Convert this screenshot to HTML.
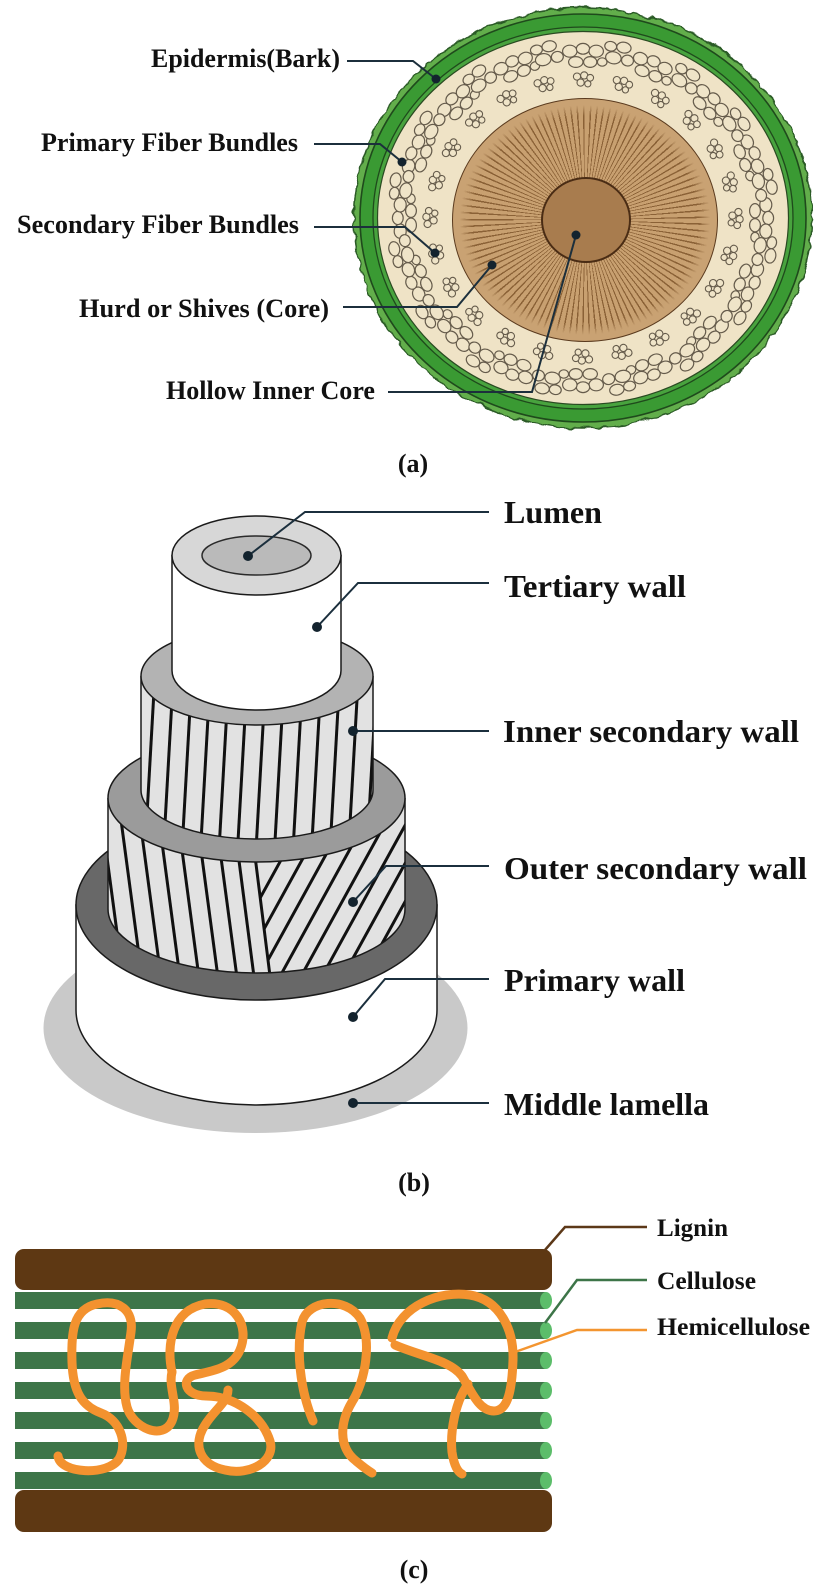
<!DOCTYPE html>
<html>
<head>
<meta charset="utf-8">
<style>
  html,body{margin:0;padding:0;background:#fff;}
  body{width:827px;height:1587px;position:relative;overflow:hidden;}
  svg{position:absolute;left:0;top:0;}
  .hurd{position:absolute;left:452px;top:98px;width:266px;height:244px;border-radius:50%;box-sizing:border-box;border:1.6px solid #5a3a1e;
    background:
      radial-gradient(closest-side, rgba(200,160,110,0) 86%, #c9a273 95%),
      repeating-conic-gradient(from 0deg, #c8a070 0deg 2.5deg, #8a6136 2.5deg 3.3deg);}
</style>
</head>
<body>
<svg width="827" height="1587" viewBox="0 0 827 1587" xmlns="http://www.w3.org/2000/svg">
  <defs>
    <filter id="rough" x="-5%" y="-5%" width="110%" height="110%">
      <feTurbulence type="fractalNoise" baseFrequency="0.09" numOctaves="2" seed="3"/>
      <feDisplacementMap in="SourceGraphic" scale="7" xChannelSelector="R" yChannelSelector="G"/>
    </filter>
    <g id="P" fill="#efe4c8" stroke="#655b4b" stroke-width="1" transform="scale(1.2)">
      <ellipse cx="-11" cy="-4" rx="6" ry="5"/>
      <ellipse cx="0" cy="-6" rx="5.5" ry="4.5"/>
      <ellipse cx="11" cy="-4" rx="6" ry="5"/>
      <ellipse cx="-6" cy="5" rx="6" ry="4.5"/>
      <ellipse cx="6" cy="5" rx="5.5" ry="4.5"/>
      <ellipse cx="16" cy="5" rx="4" ry="3.5"/>
    </g>
    <g id="P2" fill="#efe4c8" stroke="#655b4b" stroke-width="1" transform="scale(1.2)">
      <ellipse cx="-8" cy="-5" rx="5" ry="4"/>
      <ellipse cx="3" cy="-6" rx="6" ry="4.5"/>
      <ellipse cx="-4" cy="4" rx="6.5" ry="5"/>
      <ellipse cx="8" cy="4" rx="5" ry="4.5"/>
    </g>
    <g id="S" fill="#efe4c8" stroke="#655b4b" stroke-width="0.9" transform="scale(1.2)">
      <circle cx="-5" cy="-2" r="3"/>
      <circle cx="1" cy="-3" r="3"/>
      <circle cx="6" cy="-1" r="2.8"/>
      <circle cx="-2" cy="3" r="3"/>
      <circle cx="4" cy="4" r="2.6"/>
    </g>
    <clipPath id="c2"><path d="M141,676 L141,790 A116,49 0 0 0 373,790 L373,676 Z"/></clipPath>
    <clipPath id="c3"><path d="M108,798 L108,909 A148.5,64 0 0 0 405,909 L405,798 Z"/></clipPath>
    <clipPath id="c3r"><polygon points="243,760 430,760 430,1000 273,1000"/></clipPath>
    <clipPath id="c3l"><polygon points="90,760 243,760 273,1000 90,1000"/></clipPath>
  </defs>

  <!-- ============ (a) ============ -->
  <ellipse cx="583" cy="218" rx="229" ry="210" fill="#62ae4c" stroke="#2c5a26" stroke-width="1.5" filter="url(#rough)"/>
  <ellipse cx="583" cy="218" rx="223" ry="204" fill="#3a9a33" stroke="#1f4a1c" stroke-width="1.6"/>
  <ellipse cx="583" cy="218" rx="210" ry="191" fill="#48a33e" stroke="#1f4a1c" stroke-width="1.3"/>
  <ellipse cx="583" cy="218" rx="205.5" ry="186.5" fill="#efe3c6" stroke="#2a4a22" stroke-width="1.2"/>

  <!-- outer fiber bundles -->
  <use href="#P" transform="translate(761,218) rotate(90)"/>
  <use href="#P" transform="translate(748,280) rotate(112)"/>
  <use href="#P" transform="translate(709,332) rotate(135)"/>
  <use href="#P" transform="translate(651,368) rotate(157)"/>
  <use href="#P" transform="translate(583,380) rotate(180)"/>
  <use href="#P" transform="translate(515,368) rotate(202)"/>
  <use href="#P" transform="translate(457,332) rotate(225)"/>
  <use href="#P" transform="translate(418,280) rotate(247)"/>
  <use href="#P" transform="translate(405,218) rotate(270)"/>
  <use href="#P" transform="translate(418,156) rotate(292)"/>
  <use href="#P" transform="translate(457,104) rotate(315)"/>
  <use href="#P" transform="translate(515,68) rotate(337)"/>
  <use href="#P" transform="translate(583,56) rotate(0)"/>
  <use href="#P" transform="translate(651,68) rotate(22)"/>
  <use href="#P" transform="translate(709,104) rotate(45)"/>
  <use href="#P" transform="translate(748,156) rotate(67)"/>
  <use href="#P2" transform="translate(764,251) rotate(101)"/>
  <use href="#P2" transform="translate(736,311) rotate(124)"/>
  <use href="#P2" transform="translate(686,357) rotate(146)"/>
  <use href="#P2" transform="translate(619,382) rotate(169)"/>
  <use href="#P2" transform="translate(547,382) rotate(191)"/>
  <use href="#P2" transform="translate(480,357) rotate(214)"/>
  <use href="#P2" transform="translate(430,311) rotate(236)"/>
  <use href="#P2" transform="translate(402,251) rotate(259)"/>
  <use href="#P2" transform="translate(402,185) rotate(281)"/>
  <use href="#P2" transform="translate(430,125) rotate(304)"/>
  <use href="#P2" transform="translate(480,79) rotate(326)"/>
  <use href="#P2" transform="translate(547,54) rotate(349)"/>
  <use href="#P2" transform="translate(619,54) rotate(11)"/>
  <use href="#P2" transform="translate(686,79) rotate(34)"/>
  <use href="#P2" transform="translate(736,125) rotate(56)"/>
  <use href="#P2" transform="translate(764,185) rotate(79)"/>

  <!-- inner fiber bundles -->
  <use href="#S" transform="translate(736,218) rotate(90)"/>
  <use href="#S" transform="translate(730,254) rotate(105)"/>
  <use href="#S" transform="translate(715,287) rotate(120)"/>
  <use href="#S" transform="translate(691,316) rotate(135)"/>
  <use href="#S" transform="translate(659,338) rotate(150)"/>
  <use href="#S" transform="translate(622,352) rotate(165)"/>
  <use href="#S" transform="translate(583,357) rotate(180)"/>
  <use href="#S" transform="translate(544,352) rotate(195)"/>
  <use href="#S" transform="translate(507,338) rotate(210)"/>
  <use href="#S" transform="translate(475,316) rotate(225)"/>
  <use href="#S" transform="translate(451,287) rotate(240)"/>
  <use href="#S" transform="translate(436,254) rotate(255)"/>
  <use href="#S" transform="translate(430,218) rotate(270)"/>
  <use href="#S" transform="translate(436,182) rotate(285)"/>
  <use href="#S" transform="translate(451,149) rotate(300)"/>
  <use href="#S" transform="translate(475,120) rotate(315)"/>
  <use href="#S" transform="translate(507,98) rotate(330)"/>
  <use href="#S" transform="translate(544,84) rotate(345)"/>
  <use href="#S" transform="translate(583,79) rotate(0)"/>
  <use href="#S" transform="translate(622,84) rotate(15)"/>
  <use href="#S" transform="translate(659,98) rotate(30)"/>
  <use href="#S" transform="translate(691,120) rotate(45)"/>
  <use href="#S" transform="translate(715,149) rotate(60)"/>
  <use href="#S" transform="translate(730,182) rotate(75)"/>

  <!-- labels (a) -->
  <g font-family="'Liberation Serif','Times New Roman',serif" font-weight="bold" font-size="26" fill="#111">
    <text x="151" y="67" textLength="189" lengthAdjust="spacingAndGlyphs">Epidermis(Bark)</text>
    <text x="41" y="151" textLength="257" lengthAdjust="spacingAndGlyphs">Primary Fiber Bundles</text>
    <text x="17" y="233" textLength="282" lengthAdjust="spacingAndGlyphs">Secondary Fiber Bundles</text>
    <text x="79" y="317" textLength="250" lengthAdjust="spacingAndGlyphs">Hurd or Shives (Core)</text>
    <text x="166" y="399" textLength="209" lengthAdjust="spacingAndGlyphs">Hollow Inner Core</text>
    <text x="413" y="472" text-anchor="middle">(a)</text>
  </g>

  <!-- ============ (b) ============ -->
  <ellipse cx="255.5" cy="1028" rx="212" ry="105" fill="#c9c9c9"/>

  <!-- primary wall -->
  <path d="M76,905 L76,1010 A180.5,95 0 0 0 437,1010 L437,905 Z" fill="#ffffff" stroke="#1a1a1a" stroke-width="1.5"/>
  <ellipse cx="256.5" cy="905" rx="180.5" ry="95" fill="#686868" stroke="#1a1a1a" stroke-width="1.5"/>

  <!-- outer secondary wall -->
  <path d="M108,798 L108,909 A148.5,64 0 0 0 405,909 L405,798 Z" fill="#e2e2e2"/>
  <g clip-path="url(#c3)">
    <g stroke="#111" stroke-width="3" clip-path="url(#c3l)">
      <line x1="94" y1="760" x2="126" y2="1000"/>
      <line x1="113" y1="760" x2="145" y2="1000"/>
      <line x1="132" y1="760" x2="164" y2="1000"/>
      <line x1="151" y1="760" x2="183" y2="1000"/>
      <line x1="170" y1="760" x2="202" y2="1000"/>
      <line x1="189" y1="760" x2="221" y2="1000"/>
      <line x1="208" y1="760" x2="240" y2="1000"/>
      <line x1="226" y1="760" x2="257" y2="1000"/>
    </g>
    <line x1="243" y1="760" x2="273" y2="1000" stroke="#111" stroke-width="3"/>
    <g stroke="#111" stroke-width="3" clip-path="url(#c3r)">
      <line x1="336" y1="760" x2="204" y2="1000"/>
      <line x1="357" y1="760" x2="225" y2="1000"/>
      <line x1="378" y1="760" x2="246" y2="1000"/>
      <line x1="399" y1="760" x2="267" y2="1000"/>
      <line x1="420" y1="760" x2="288" y2="1000"/>
      <line x1="441" y1="760" x2="309" y2="1000"/>
      <line x1="462" y1="760" x2="330" y2="1000"/>
      <line x1="483" y1="760" x2="351" y2="1000"/>
      <line x1="504" y1="760" x2="372" y2="1000"/>
      <line x1="525" y1="760" x2="393" y2="1000"/>
      <line x1="546" y1="760" x2="414" y2="1000"/>
    </g>
  </g>
  <path d="M108,798 L108,909 A148.5,64 0 0 0 405,909 L405,798" fill="none" stroke="#1a1a1a" stroke-width="1.5"/>
  <ellipse cx="256.5" cy="798" rx="148.5" ry="64" fill="#9b9b9b" stroke="#1a1a1a" stroke-width="1.5"/>

  <!-- inner secondary wall -->
  <path d="M141,676 L141,790 A116,49 0 0 0 373,790 L373,676 Z" fill="#e2e2e2"/>
  <g clip-path="url(#c2)" stroke="#111" stroke-width="3">
    <line x1="158" y1="620" x2="145" y2="850"/>
    <line x1="176.5" y1="620" x2="163.5" y2="850"/>
    <line x1="195" y1="620" x2="182" y2="850"/>
    <line x1="213.5" y1="620" x2="200.5" y2="850"/>
    <line x1="232" y1="620" x2="219" y2="850"/>
    <line x1="250.5" y1="620" x2="237.5" y2="850"/>
    <line x1="269" y1="620" x2="256" y2="850"/>
    <line x1="287.5" y1="620" x2="274.5" y2="850"/>
    <line x1="306" y1="620" x2="293" y2="850"/>
    <line x1="324.5" y1="620" x2="311.5" y2="850"/>
    <line x1="343" y1="620" x2="330" y2="850"/>
    <line x1="361.5" y1="620" x2="348.5" y2="850"/>
    <line x1="380" y1="620" x2="367" y2="850"/>
  </g>
  <path d="M141,676 L141,790 A116,49 0 0 0 373,790 L373,676" fill="none" stroke="#1a1a1a" stroke-width="1.5"/>
  <ellipse cx="257" cy="676" rx="116" ry="49" fill="#b3b3b3" stroke="#1a1a1a" stroke-width="1.5"/>

  <!-- tertiary wall -->
  <path d="M172,555.5 L172,670.5 A84.5,39.5 0 0 0 341,670.5 L341,555.5 Z" fill="#ffffff" stroke="#1a1a1a" stroke-width="1.5"/>
  <ellipse cx="256.5" cy="555.5" rx="84.5" ry="39.5" fill="#d7d7d7" stroke="#1a1a1a" stroke-width="1.5"/>
  <ellipse cx="256.5" cy="555.5" rx="54.5" ry="19.5" fill="#bababa" stroke="#2a2a2a" stroke-width="1.5"/>

  <!-- connectors (b) -->
  <g stroke="#1b2f3d" stroke-width="2" fill="none">
    <polyline points="248,556 305,512 489,512"/>
    <polyline points="317,627 358,583 489,583"/>
    <polyline points="353,731 489,731"/>
    <polyline points="353,902 386,866 489,866"/>
    <polyline points="353,1017 385,979 489,979"/>
    <polyline points="353,1103 489,1103"/>
  </g>
  <g fill="#13232e">
    <circle cx="248" cy="556" r="5"/>
    <circle cx="317" cy="627" r="5"/>
    <circle cx="353" cy="731" r="5"/>
    <circle cx="353" cy="902" r="5"/>
    <circle cx="353" cy="1017" r="5"/>
    <circle cx="353" cy="1103" r="5"/>
  </g>

  <g font-family="'Liberation Serif','Times New Roman',serif" font-weight="bold" font-size="32" fill="#111">
    <text x="504" y="523" textLength="98" lengthAdjust="spacingAndGlyphs">Lumen</text>
    <text x="504" y="597" textLength="182" lengthAdjust="spacingAndGlyphs">Tertiary wall</text>
    <text x="503" y="742" textLength="296" lengthAdjust="spacingAndGlyphs">Inner secondary wall</text>
    <text x="504" y="879" textLength="303" lengthAdjust="spacingAndGlyphs">Outer secondary wall</text>
    <text x="504" y="991" textLength="181" lengthAdjust="spacingAndGlyphs">Primary wall</text>
    <text x="504" y="1115" textLength="205" lengthAdjust="spacingAndGlyphs">Middle lamella</text>
  </g>
  <text x="414" y="1191" text-anchor="middle" font-family="'Liberation Serif','Times New Roman',serif" font-weight="bold" font-size="26" fill="#111">(b)</text>

  <!-- ============ (c) ============ -->
  <rect x="15" y="1249" width="537" height="41" rx="9" fill="#5e3813"/>
  <rect x="15" y="1490" width="537" height="42" rx="9" fill="#5e3813"/>
  <g>
    <rect x="15" y="1292" width="531" height="17" fill="#3d7548"/><ellipse cx="546" cy="1300.5" rx="6" ry="8.5" fill="#5cbd6a"/>
    <rect x="15" y="1322" width="531" height="17" fill="#3d7548"/><ellipse cx="546" cy="1330.5" rx="6" ry="8.5" fill="#5cbd6a"/>
    <rect x="15" y="1352" width="531" height="17" fill="#3d7548"/><ellipse cx="546" cy="1360.5" rx="6" ry="8.5" fill="#5cbd6a"/>
    <rect x="15" y="1382" width="531" height="17" fill="#3d7548"/><ellipse cx="546" cy="1390.5" rx="6" ry="8.5" fill="#5cbd6a"/>
    <rect x="15" y="1412" width="531" height="17" fill="#3d7548"/><ellipse cx="546" cy="1420.5" rx="6" ry="8.5" fill="#5cbd6a"/>
    <rect x="15" y="1442" width="531" height="17" fill="#3d7548"/><ellipse cx="546" cy="1450.5" rx="6" ry="8.5" fill="#5cbd6a"/>
    <rect x="15" y="1472" width="531" height="17" fill="#3d7548"/><ellipse cx="546" cy="1480.5" rx="6" ry="8.5" fill="#5cbd6a"/>
  </g>
  <g stroke="#f3922f" stroke-width="9" fill="none" stroke-linecap="round" stroke-linejoin="round">
    <path d="M58,1456 C60,1474 108,1476 119,1459 C128,1443 120,1420 101,1413 C82,1406 73,1392 72,1362 C71,1332 73,1309 97,1304 C119,1299 134,1310 131,1332 C128,1356 121,1385 127,1407 C133,1428 163,1441 172,1421 C179,1404 168,1388 172,1372"/>
    <path d="M172,1372 C166,1345 172,1310 205,1304 C235,1300 250,1326 240,1350 C232,1369 211,1371 195,1375 C180,1379 185,1396 206,1396 C235,1396 262,1416 270,1441 C276,1461 250,1476 225,1470 C200,1465 192,1445 205,1425 C214,1410 228,1402 228,1390"/>
    <path d="M313,1421 C300,1390 296,1350 302,1322 C308,1300 345,1296 360,1318 C372,1340 366,1380 352,1402 C340,1422 338,1447 356,1461 C362,1466 367,1470 372,1473"/>
    <path d="M392,1338 C400,1306 440,1290 470,1295 C500,1300 514,1330 513,1360 C512,1390 508,1411 494,1411 C479,1411 471,1391 462,1376 C450,1360 420,1356 395,1345"/>
    <path d="M468,1384 C455,1402 450,1432 452,1452 C454,1466 458,1472 462,1474"/>
  </g>
  <polyline points="545,1250 565,1227 647,1227" stroke="#5c3818" stroke-width="2.5" fill="none"/>
  <polyline points="545,1323 577,1280 647,1280" stroke="#3d7548" stroke-width="2.5" fill="none"/>
  <polyline points="515,1352 577,1330 647,1330" stroke="#f39530" stroke-width="2.5" fill="none"/>
  <g font-family="'Liberation Serif','Times New Roman',serif" font-weight="bold" font-size="25.5" fill="#111">
    <text x="657" y="1236" textLength="71" lengthAdjust="spacingAndGlyphs">Lignin</text>
    <text x="657" y="1289" textLength="99" lengthAdjust="spacingAndGlyphs">Cellulose</text>
    <text x="657" y="1335" textLength="153" lengthAdjust="spacingAndGlyphs">Hemicellulose</text>
  </g>
  <text x="414" y="1578" text-anchor="middle" font-family="'Liberation Serif','Times New Roman',serif" font-weight="bold" font-size="26" fill="#111">(c)</text>
</svg>

<div class="hurd"></div>

<svg width="827" height="450" viewBox="0 0 827 450" xmlns="http://www.w3.org/2000/svg">
  <ellipse cx="586" cy="220" rx="44" ry="42" fill="#a87c4e" stroke="#4a2c14" stroke-width="2"/>
  <g stroke="#1c2f3c" stroke-width="2" fill="none">
    <polyline points="347,61 413,61 436,79"/>
    <polyline points="314,144 380,144 402,162"/>
    <polyline points="314,227 405,227 435,253"/>
    <polyline points="343,307 457,307 492,265"/>
    <polyline points="388,392 532,392 576,235"/>
  </g>
  <g fill="#13232e">
    <circle cx="436" cy="79" r="4.5"/>
    <circle cx="402" cy="162" r="4.5"/>
    <circle cx="435" cy="253" r="4.5"/>
    <circle cx="492" cy="265" r="4.5"/>
    <circle cx="576" cy="235" r="4.5"/>
  </g>
</svg>
</body>
</html>
